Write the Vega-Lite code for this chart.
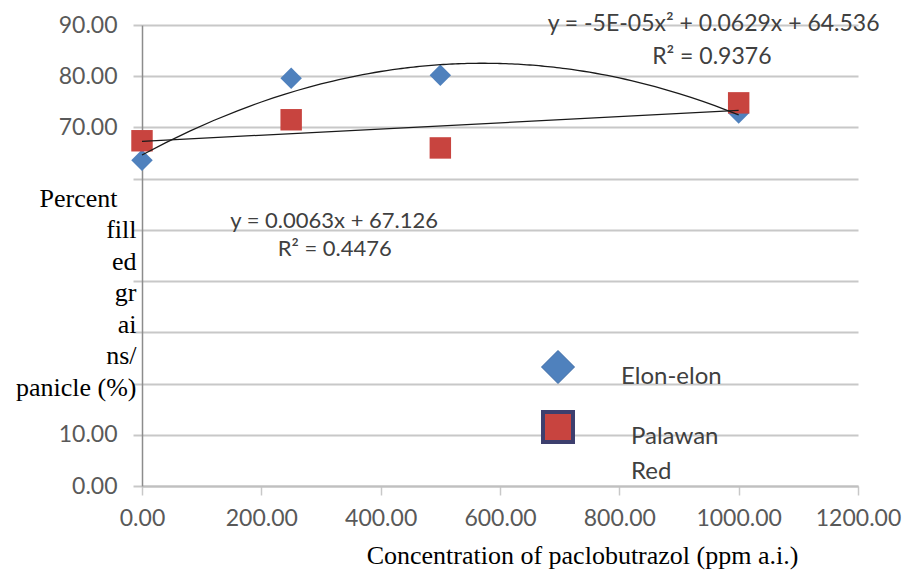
{
  "$schema": "https://vega.github.io/schema/vega-lite/v6.json",
  "width": 716,
  "height": 461,
  "autosize": {"type": "none"},
  "padding": {"left": 142, "top": 25, "right": 51, "bottom": 88},
  "background": "white",
  "config": {"view": {"stroke": null}},
  "datasets": {
    "obs": [
      {"variety": "Elon-elon", "conc": 0, "pct": 63.6},
      {"variety": "Elon-elon", "conc": 250, "pct": 79.6},
      {"variety": "Elon-elon", "conc": 500, "pct": 80.2},
      {"variety": "Elon-elon", "conc": 1000, "pct": 72.8},
      {"variety": "Palawan Red", "conc": 0, "pct": 67.4},
      {"variety": "Palawan Red", "conc": 250, "pct": 71.5},
      {"variety": "Palawan Red", "conc": 500, "pct": 66.0},
      {"variety": "Palawan Red", "conc": 1000, "pct": 74.8}
    ],
    "notes": [
      {"x": 958, "y": 90.1, "label": "y = -5E-05x² + 0.0629x + 64.536", "size": 23},
      {"x": 955, "y": 83.8, "label": "R² = 0.9376", "size": 23},
      {"x": 322, "y": 51.7, "label": "y = 0.0063x + 67.126", "size": 22},
      {"x": 323, "y": 46.3, "label": "R² = 0.4476", "size": 22}
    ]
  },
  "layer": [
    {
      "data": {"name": "obs"},
      "mark": {"type": "point", "filled": true, "opacity": 1, "size": 460},
      "encoding": {
        "x": {
          "field": "conc", "type": "quantitative",
          "scale": {"domain": [0, 1200]},
          "axis": {
            "values": [0, 200, 400, 600, 800, 1000, 1200],
            "format": ".2f",
            "grid": false,
            "domain": true, "domainColor": "#c0c0c0", "domainWidth": 2,
            "ticks": true, "tickSize": 9, "tickColor": "#c8c8c8", "tickWidth": 1.5,
            "labelFlush": false, "labelOverlap": false,
            "labelFont": "Lato", "labelFontSize": 23, "labelColor": "#595959", "labelPadding": 12,
            "title": "Concentration of paclobutrazol (ppm a.i.)",
            "titleFont": "Liberation Serif", "titleFontSize": 26, "titleFontWeight": "normal", "titleColor": "black",
            "titleX": 440, "titleY": 77, "titleBaseline": "alphabetic", "titleAlign": "center"
          }
        },
        "y": {
          "field": "pct", "type": "quantitative",
          "scale": {"domain": [0, 90]},
          "axis": {
            "values": [0, 10, 20, 30, 40, 50, 60, 70, 80, 90],
            "format": ".2f",
            "labelExpr": "(datum.value <= 10 || datum.value >= 70) ? datum.label : ''",
            "grid": true, "gridColor": "#c8c8c8", "gridWidth": 2,
            "domain": true, "domainColor": "#8c8c8c", "domainWidth": 1.5,
            "ticks": true, "tickSize": 9, "tickColor": "#c8c8c8", "tickWidth": 2,
            "labelFont": "Lato", "labelFontSize": 23, "labelColor": "#595959", "labelPadding": 16,
            "title": ["Percent\u2800", "fill", "ed", "gr", "ai", "ns/", "panicle (%)"],
            "titleAngle": 0, "titleAlign": "right", "titleBaseline": "alphabetic",
            "titleX": -6, "titleY": 181, "titleLineHeight": 31.5,
            "titleFont": "Liberation Serif", "titleFontSize": 26, "titleFontWeight": "normal", "titleColor": "black"
          }
        },
        "color": {
          "field": "variety", "type": "nominal",
          "scale": {"domain": ["Elon-elon", "Palawan Red"], "range": ["#4F81BD", "#C8443F"]},
          "legend": {
            "title": null, "orient": "none", "legendX": 404, "legendY": 330,
            "labelFont": "Lato", "labelFontSize": 24, "labelColor": "#404040",
            "labelOffset": 51, "labelBaseline": "alphabetic", "rowPadding": 15,
            "labelExpr": "datum.label === 'Palawan Red' ? ['Palawan', 'Red'] : datum.label",
            "symbolOpacity": 1,
            "encode": {
              "symbols": {"update": {
                "size": {"signal": "datum.value === 'Elon-elon' ? 1089 : 900"},
                "stroke": {"signal": "datum.value === 'Elon-elon' ? '#3a6aa6' : '#3d3f6e'"},
                "strokeWidth": {"signal": "datum.value === 'Elon-elon' ? 1 : 4"}
              }},
              "labels": {"update": {
                "dx": {"signal": "datum.value === 'Palawan Red' ? 10 : 0"},
                "dy": {"value": 17},
                "lineHeight": {"value": 35}
              }}
            }
          }
        },
        "shape": {
          "field": "variety", "type": "nominal",
          "scale": {"domain": ["Elon-elon", "Palawan Red"], "range": ["diamond", "square"]},
          "legend": {
            "title": null, "orient": "none", "legendX": 404, "legendY": 330,
            "labelFont": "Lato", "labelFontSize": 24, "labelColor": "#404040",
            "labelOffset": 51, "labelBaseline": "alphabetic", "rowPadding": 15,
            "labelExpr": "datum.label === 'Palawan Red' ? ['Palawan', 'Red'] : datum.label",
            "symbolOpacity": 1,
            "encode": {
              "symbols": {"update": {
                "size": {"signal": "datum.value === 'Elon-elon' ? 1089 : 900"},
                "stroke": {"signal": "datum.value === 'Elon-elon' ? '#3a6aa6' : '#3d3f6e'"},
                "strokeWidth": {"signal": "datum.value === 'Elon-elon' ? 1 : 4"}
              }},
              "labels": {"update": {
                "dx": {"signal": "datum.value === 'Palawan Red' ? 10 : 0"},
                "dy": {"value": 17},
                "lineHeight": {"value": 35}
              }}
            }
          }
        }
      }
    },
    {
      "data": {"name": "obs"},
      "transform": [
        {"filter": "datum.variety === 'Elon-elon'"},
        {"regression": "pct", "on": "conc", "method": "poly", "order": 2, "extent": [0, 1000]}
      ],
      "mark": {"type": "line", "color": "#1a1a1a", "strokeWidth": 1.3},
      "encoding": {
        "x": {"field": "conc", "type": "quantitative"},
        "y": {"field": "pct", "type": "quantitative"}
      }
    },
    {
      "data": {"name": "obs"},
      "transform": [
        {"filter": "datum.variety === 'Palawan Red'"},
        {"regression": "pct", "on": "conc", "method": "linear", "extent": [0, 1000]}
      ],
      "mark": {"type": "line", "color": "#1a1a1a", "strokeWidth": 1.3},
      "encoding": {
        "x": {"field": "conc", "type": "quantitative"},
        "y": {"field": "pct", "type": "quantitative"}
      }
    },
    {
      "data": {"name": "notes"},
      "mark": {"type": "text", "font": "Lato", "color": "#404040", "align": "center", "baseline": "middle"},
      "encoding": {
        "x": {"field": "x", "type": "quantitative"},
        "y": {"field": "y", "type": "quantitative"},
        "text": {"field": "label"},
        "size": {"field": "size", "type": "quantitative", "scale": null}
      }
    }
  ]
}
